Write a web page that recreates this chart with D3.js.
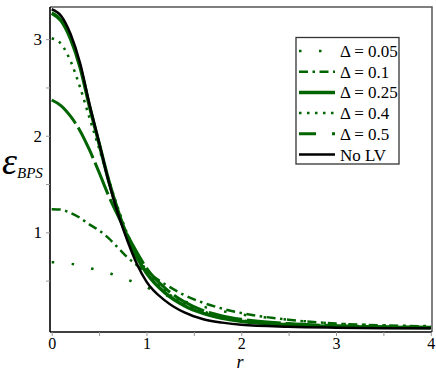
<!DOCTYPE html>
<html>
<head>
<meta charset="utf-8">
<script src="https://cdn.jsdelivr.net/npm/d3@7"></script>
<style>
  body { margin: 0; background: #fff; }
</style>
</head>
<body>
<div id="chart"></div>
<script>
// radius samples shared by all curves
var rValues = [0, 0.1, 0.2, 0.3, 0.4, 0.5, 0.6, 0.7, 0.8, 0.9, 1.0,
               1.2, 1.4, 1.6, 1.8, 2.0, 2.5, 3.0, 3.5, 4.0];

var eps005 = [0.69, 0.685, 0.675, 0.655, 0.63, 0.605, 0.58, 0.545, 0.51, 0.47, 0.43,
              0.35, 0.285, 0.23, 0.185, 0.15, 0.095, 0.055, 0.038, 0.028];
var eps01  = [1.24, 1.235, 1.20, 1.15, 1.08, 1.02, 0.94, 0.84, 0.74, 0.66, 0.59,
              0.46, 0.35, 0.27, 0.21, 0.165, 0.095, 0.055, 0.036, 0.025];
var eps025 = [3.27, 3.19, 3.00, 2.71, 2.30, 1.92, 1.54, 1.22, 0.95, 0.74, 0.58,
              0.37, 0.24, 0.16, 0.11, 0.08, 0.042, 0.025, 0.017, 0.012];
var eps04  = [3.01, 2.95, 2.77, 2.50, 2.18, 1.87, 1.55, 1.25, 0.98, 0.77, 0.60,
              0.39, 0.26, 0.18, 0.125, 0.09, 0.05, 0.03, 0.02, 0.015];
var eps05  = [2.37, 2.31, 2.20, 2.05, 1.85, 1.62, 1.38, 1.17, 0.97, 0.79, 0.63,
              0.42, 0.28, 0.19, 0.135, 0.10, 0.055, 0.033, 0.022, 0.016];
var epsNoLV = [3.31, 3.24, 3.05, 2.75, 2.32, 1.93, 1.53, 1.19, 0.91, 0.67, 0.49,
               0.29, 0.17, 0.10, 0.065, 0.042, 0.022, 0.013, 0.008, 0.006];

var seriesNames = ["\u0394 = 0.05", "\u0394 = 0.1", "\u0394 = 0.25", "\u0394 = 0.4", "\u0394 = 0.5", "No LV"];
var xTicks = [0, 1, 2, 3, 4];
var yTicks = [1, 2, 3];

(function() {
    var green = "#006400";
    var serif = "'Liberation Serif', 'DejaVu Serif', serif";
    var series = [
        {name: seriesNames[0], values: eps005, color: green, width: 2.5, dash: "2.5,17.5", legendDash: "2.5,17.5"},
        {name: seriesNames[1], values: eps01,  color: green, width: 2.5, dash: "9,4.5,2.5,4.5", legendDash: "9,4.5,2.5,4.5"},
        {name: seriesNames[2], values: eps025, color: green, width: 3.5, dash: null, legendDash: null},
        {name: seriesNames[3], values: eps04,  color: green, width: 2.5, dash: "2.5,5.5", legendDash: "2.5,5.5"},
        {name: seriesNames[4], values: eps05,  color: green, width: 3, dash: "34,5", legendDash: "17,16"},
        {name: seriesNames[5], values: epsNoLV, color: "#000", width: 2.5, dash: null, legendDash: null}
    ];

    var W = 436, H = 372;
    var pl = 50, pr = 432, pt = 7, pb = 332;

    var x = d3.scaleLinear().domain([-0.018, 4.013]).range([pl, pr]);
    var y = d3.scaleLinear().domain([-0.032, 3.333]).range([pb, pt]);

    var svg = d3.select("#chart").append("svg")
        .attr("width", W)
        .attr("height", H)
        .attr("font-family", serif);

    svg.append("clipPath").attr("id", "plotclip")
        .append("rect")
        .attr("x", pl).attr("y", pt)
        .attr("width", pr - pl).attr("height", pb - pt);

    // frame (top and right)
    svg.append("path")
        .attr("d", "M" + pl + "," + pt + "H" + pr + "V" + pb)
        .attr("fill", "none")
        .attr("stroke", "#555")
        .attr("stroke-width", 1.5);

    var line = d3.line()
        .x(function(d) { return x(d[0]); })
        .y(function(d) { return y(d[1]); })
        .curve(d3.curveMonotoneX);

    var plot = svg.append("g").attr("clip-path", "url(#plotclip)");
    series.forEach(function(s) {
        plot.append("path")
            .datum(d3.zip(rValues, s.values))
            .attr("fill", "none")
            .attr("stroke", s.color)
            .attr("stroke-width", s.width)
            .attr("stroke-dasharray", s.dash)
            .attr("d", line);
    });

    // axes
    var xAxis = d3.axisBottom(x)
        .tickValues(d3.range(0, 4.01, 0.5))
        .tickSize(4)
        .tickFormat(function(d) { return xTicks.indexOf(d) >= 0 ? d : ""; });
    var gx = svg.append("g")
        .attr("transform", "translate(0," + pb + ")")
        .call(xAxis)
        .attr("font-family", serif)
        .attr("font-size", 16);
    gx.select(".domain").attr("stroke", "#000").attr("stroke-width", 1.6)
        .attr("d", "M" + pl + ",0H" + pr);
    gx.selectAll(".tick line").attr("stroke", "#999");
    gx.selectAll(".tick text")
        .attr("y", 6)
        .attr("fill", "#000");

    var yAxis = d3.axisLeft(y)
        .tickValues([0.5, 1, 1.5, 2, 2.5, 3])
        .tickSize(4)
        .tickFormat(function(d) { return yTicks.indexOf(d) >= 0 ? d : ""; });
    var gy = svg.append("g")
        .attr("transform", "translate(" + pl + ",0)")
        .call(yAxis)
        .attr("font-family", serif)
        .attr("font-size", 17);
    gy.select(".domain").attr("stroke", "#000").attr("stroke-width", 1.6)
        .attr("d", "M0," + pt + "V" + pb);
    gy.selectAll(".tick line").attr("stroke", "#999");
    gy.selectAll(".tick text")
        .attr("x", -8)
        .attr("fill", "#000");

    // axis titles
    svg.append("text")
        .attr("x", 240).attr("y", 368)
        .attr("text-anchor", "middle")
        .attr("font-size", 18)
        .attr("font-style", "italic")
        .text("r");

    var yt = svg.append("text")
        .attr("x", 2).attr("y", 174)
        .attr("font-style", "italic");
    yt.append("tspan").attr("font-size", 38).text("\u03b5");
    yt.append("tspan").attr("dy", 4).attr("font-size", 15).text("BPS");

    // legend
    var lg = svg.append("g");
    lg.append("rect")
        .attr("x", 296).attr("y", 37.5)
        .attr("width", 103).attr("height", 126.5)
        .attr("fill", "#fff")
        .attr("stroke", "#333")
        .attr("stroke-width", 1.3);

    series.forEach(function(s, i) {
        var cy = 51 + i * 20.7;
        lg.append("line")
            .attr("x1", 299).attr("x2", 335)
            .attr("y1", cy).attr("y2", cy)
            .attr("stroke", s.color)
            .attr("stroke-width", s.width)
            .attr("stroke-dasharray", s.legendDash);
        lg.append("text")
            .attr("x", 340).attr("y", cy + 6)
            .attr("font-size", 17)
            .text(s.name);
    });
})();
</script>
</body>
</html>
